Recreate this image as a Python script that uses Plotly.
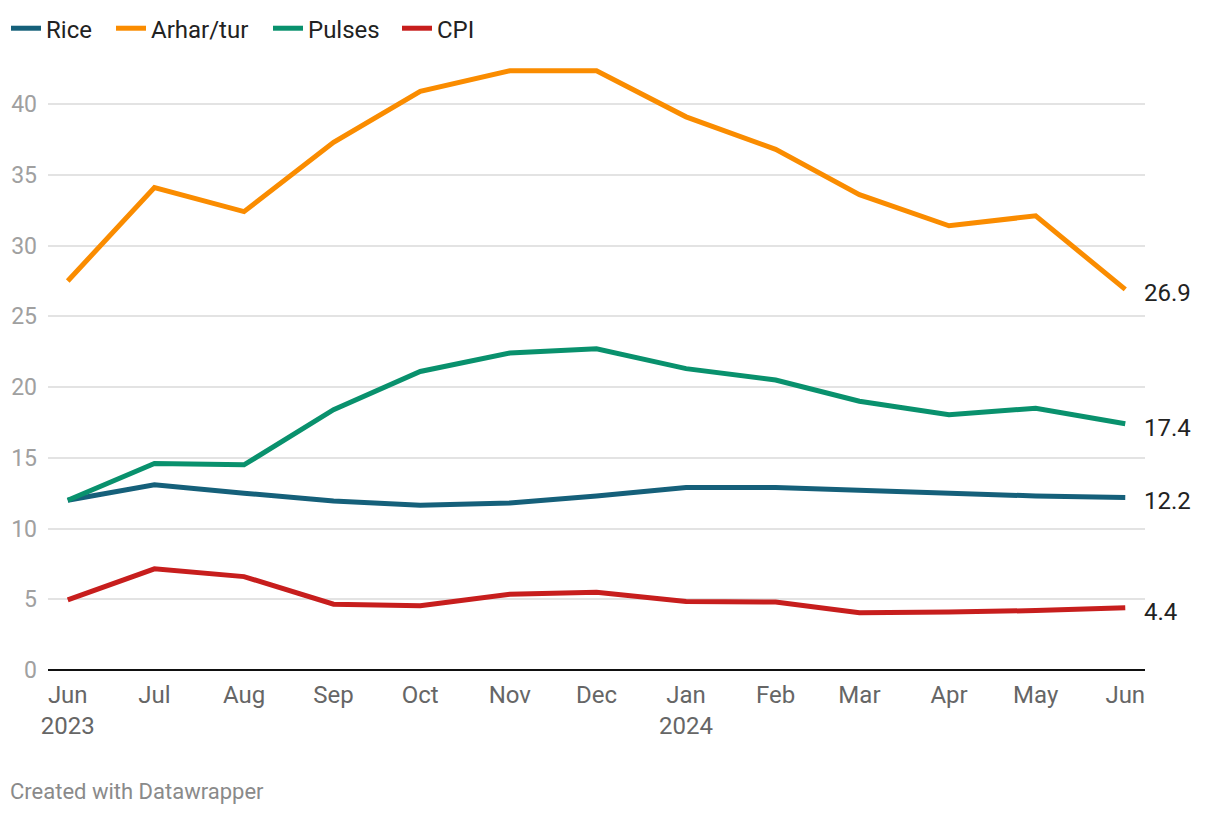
import plotly.graph_objects as go

months = ["2023-06-01", "2023-07-01", "2023-08-01", "2023-09-01", "2023-10-01",
          "2023-11-01", "2023-12-01", "2024-01-01", "2024-02-01", "2024-03-01",
          "2024-04-01", "2024-05-01", "2024-06-01"]
tick_labels = ["Jun<br>2023", "Jul", "Aug", "Sep", "Oct", "Nov", "Dec",
               "Jan<br>2024", "Feb", "Mar", "Apr", "May", "Jun"]

rice = [12.0, 13.1, 12.5, 11.95, 11.65, 11.8, 12.3, 12.9, 12.9, 12.7, 12.5, 12.3, 12.2]
arhar = [27.5, 34.1, 32.4, 37.3, 40.9, 42.35, 42.35, 39.1, 36.8, 33.6, 31.4, 32.1, 26.9]
pulses = [12.0, 14.6, 14.5, 18.4, 21.1, 22.4, 22.7, 21.3, 20.5, 19.0, 18.05, 18.5, 17.4]
cpi = [4.95, 7.15, 6.6, 4.65, 4.55, 5.35, 5.5, 4.85, 4.8, 4.05, 4.1, 4.2, 4.4]

series = [("Rice", rice, "#15607a"),
          ("Arhar/tur", arhar, "#fa8c00"),
          ("Pulses", pulses, "#09916d"),
          ("CPI", cpi, "#c71e1d")]
end_labels = ["12.2", "26.9", "17.4", "4.4"]
legend_x_px = [6, 111, 268, 397]

FONT = "Roboto"
fig = go.Figure()
legend_ids = ["legend", "legend2", "legend3", "legend4"]
for (name, vals, col), lid in zip(series, legend_ids):
    fig.add_trace(go.Scatter(x=months, y=vals, name=name, mode="lines",
                             line=dict(color=col, width=5), hoverinfo="skip",
                             legend=lid))

for (name, vals, col), lab in zip(series, end_labels):
    fig.add_annotation(x=months[-1], y=vals[-1], text=lab, showarrow=False,
                       xanchor="left", yanchor="middle", xshift=17, yshift=-4,
                       font=dict(family=FONT, size=24, color="#222222"))

fig.add_annotation(xref="paper", yref="paper", x=-0.0365, y=-0.198,
                   text="Created with Datawrapper", showarrow=False,
                   xanchor="left", yanchor="middle",
                   font=dict(family=FONT, size=22, color="#8a8a8a"))

legend_layout = {}
for lid, px in zip(legend_ids, legend_x_px):
    legend_layout[lid] = dict(orientation="h", xref="container", yref="container",
                              x=px / 1220, y=0.9925, xanchor="left", yanchor="top",
                              font=dict(family=FONT, size=24, color="#222222"),
                              itemwidth=30, bgcolor="rgba(0,0,0,0)")

fig.update_layout(
    width=1220, height=816,
    margin=dict(l=48, r=75, t=55, b=146, autoexpand=False),
    paper_bgcolor="white", plot_bgcolor="white",
    font=dict(family=FONT),
    showlegend=True,
    xaxis=dict(type="date", range=["2023-05-25 04:00", "2024-06-07 20:00"],
               tickvals=months, ticktext=tick_labels, showgrid=False,
               showline=False, zeroline=False, ticks="", ticklabelstandoff=8,
               tickfont=dict(family=FONT, size=24, color="#666666")),
    yaxis=dict(range=[0, 43.47], tickvals=[0, 5, 10, 15, 20, 25, 30, 35, 40],
               showgrid=True, gridcolor="#e3e3e3", gridwidth=2,
               zeroline=True, zerolinecolor="#111111", zerolinewidth=2,
               showline=False, ticks="", ticklabelstandoff=10,
               tickfont=dict(family=FONT, size=23, color="#a0a0a0")),
    **legend_layout,
)

fig.write_html("out.html", config={"displayModeBar": False},
               post_script="document.body.style.margin='0';")
